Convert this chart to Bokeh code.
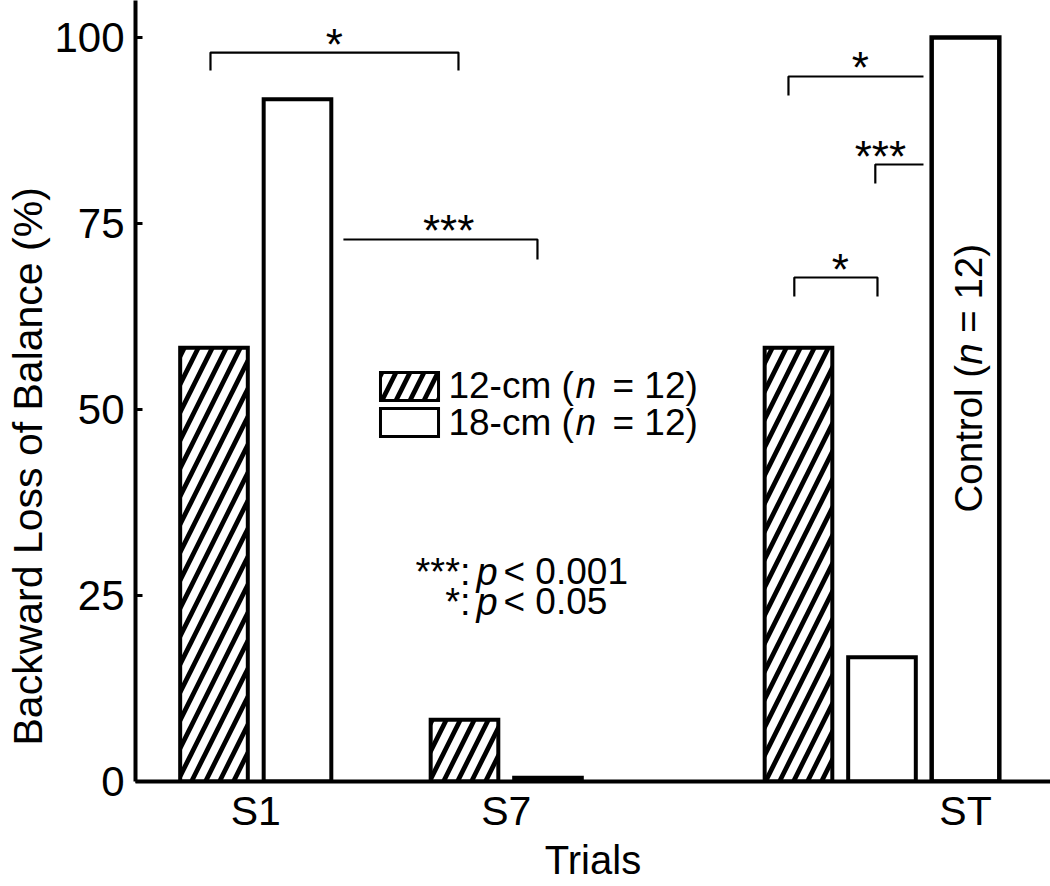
import math
from bokeh.plotting import figure
from bokeh.models import FixedTicker, Range1d, Title
from bokeh.core.properties import value
from bokeh.embed import file_html
from bokeh.resources import INLINE

# ---------------- data ----------------
trials = ["S1", "S7", "ST"]
loss_12cm = [58.3, 8.3, 58.3]     # Backward loss of balance (%), 12-cm group
loss_18cm = [91.7, 0.5, 16.7]     # 18-cm group
control_trial = "ST"
loss_control = [100.0]            # Control group (ST only)
y_ticks = [0, 25, 50, 75, 100]
legend_rows = [("12-cm (", "n", "= 12)"), ("18-cm (", "n", "= 12)")]
control_text = ("Control (", "n", "= 12)")
sig_labels = ["*", "***", "*", "***", "*"]
p_keys = ["***:", "*:"]
p_texts = ["< 0.001", "< 0.05"]

# ---------------- layout ----------------
FONT = "Liberation Sans"
group_start = {"S1": 1, "S7": 4, "ST": 8}
BAR_W = 0.81
W, H = 1050, 886
LEFT, BOTTOM = 135, 105
X0 = 0.06
PX_X = 83.5
X1 = X0 + (W - LEFT) / PX_X
Y0 = 0.0
PX_Y = 7.44
Y1 = (H - BOTTOM) / PX_Y
BASE_SHIFT = 14   # px correction for rendered text baseline

# Arial / Liberation Sans advance widths (per 1000 em)
ADV = {" ": 278, "(": 333, ")": 333, "*": 389, "-": 333, ".": 278, ":": 278,
       "<": 584, "=": 584, "c": 500, "m": 833, "n": 556, "p": 556, "C": 722,
       "o": 556, "t": 278, "r": 333, "l": 222}
for d in "0123456789":
    ADV[d] = 556


def text_w(s, size):
    return sum(ADV.get(ch, 556) for ch in s) / 1000.0 * size


p = figure(width=W, height=H, x_range=Range1d(X0, X1), y_range=Range1d(Y0, Y1),
           output_backend="svg", toolbar_location=None,
           min_border_left=LEFT, min_border_bottom=BOTTOM,
           min_border_top=0, min_border_right=0)
p.title.visible = False
p.outline_line_color = None
p.grid.visible = False
p.background_fill_color = "white"

# ---------------- bars ----------------
x12 = [group_start[t] for t in trials]
x18 = [group_start[t] + 1 for t in trials]
xc = [group_start[control_trial] + 2]

HATCH = dict(hatch_pattern="right_diagonal_line", hatch_color="black",
             hatch_scale=28, hatch_weight=4.8)
p.vbar(x=x12, top=loss_12cm, width=BAR_W, fill_color="white", line_color="black",
       line_width=4, line_join="miter", **HATCH)
p.vbar(x=x18, top=loss_18cm, width=BAR_W, fill_color="white", line_color="black",
       line_width=4, line_join="miter")
p.vbar(x=xc, top=loss_control, width=BAR_W, fill_color="white", line_color="black",
       line_width=4.5, line_join="miter")

# ---------------- significance brackets ----------------
# (x_left, x_right, y, y_end_left, y_end_right, label_x)
brackets = [
    (0.958, 3.928, 97.98, 95.56, 95.56, 2.44),
    (2.55, 4.874, 72.85, None, 70.16, 3.81),
    (7.88, 9.497, 94.76, 92.2, None, 8.74),
    (8.92, 9.497, 82.93, 80.38, None, 8.98),
    (7.95, 8.946, 67.74, 65.19, 65.19, 8.50),
]
bx, by = [], []
for xl, xr, yy, yl, yr, _ in brackets:
    xs, ys = [], []
    if yl is not None:
        xs.append(xl); ys.append(yl)
    xs += [xl, xr]; ys += [yy, yy]
    if yr is not None:
        xs.append(xr); ys.append(yr)
    bx.append(xs); by.append(ys)
p.multi_line(xs=bx, ys=by, line_color="black", line_width=2.2)

p.text(x=[b[5] for b in brackets], y=[b[2] + 8.5 / PX_Y for b in brackets],
       text=sig_labels, text_align="center", text_baseline="alphabetic",
       text_font=value(FONT), text_font_size="44px", text_color="black")

# ---------------- legend (manual, italic n) ----------------
leg_box_x = (2.994, 3.689)
leg_rows_y = [(51.21, 54.97), (46.37, 50.13)]
p.quad(left=[leg_box_x[0]], right=[leg_box_x[1]], bottom=[leg_rows_y[0][0]], top=[leg_rows_y[0][1]],
       fill_color="white", line_color="black", line_width=3, line_join="miter", **HATCH)
p.quad(left=[leg_box_x[0]], right=[leg_box_x[1]], bottom=[leg_rows_y[1][0]], top=[leg_rows_y[1][1]],
       fill_color="white", line_color="black", line_width=3, line_join="miter")

LEG_X = 3.808
leg_base = [51.34, 46.37]
piece_off = [0, 127, 164]     # px offsets of the three text runs
for row, yb in zip(legend_rows, leg_base):
    for k, s in enumerate(row):
        p.text(x=[LEG_X + piece_off[k] / PX_X], y=[yb + BASE_SHIFT / PX_Y], text=[s],
               text_align="left", text_baseline="alphabetic",
               text_font=value(FONT), text_font_size="37px",
               text_font_style="italic" if k == 1 else "normal", text_color="black")

# ---------------- p-value key ----------------
p_rows_y = [26.34, 22.31]
for key, txt, yb in zip(p_keys, p_texts, p_rows_y):
    yy = yb + BASE_SHIFT / PX_Y
    p.text(x=[4.072], y=[yy], text=[key], text_align="right", text_baseline="alphabetic",
           text_font=value(FONT), text_font_size="38px", text_color="black")
    p.text(x=[4.144], y=[yy], text=["p"], text_align="left", text_baseline="alphabetic",
           text_font=value(FONT), text_font_size="38px", text_font_style="italic",
           text_color="black")
    p.text(x=[4.467], y=[yy], text=[txt], text_align="left", text_baseline="alphabetic",
           text_font=value(FONT), text_font_size="37px", text_color="black")

# ---------------- rotated control label ----------------
CTRL_X, CTRL_Y = 10.204, 36.16
size_c = 38.5
offs = [0, text_w(control_text[0], size_c), text_w(control_text[0] + "n ", size_c)]
for k, s in enumerate(control_text):
    p.text(x=[CTRL_X - BASE_SHIFT / PX_X], y=[CTRL_Y + offs[k] / PX_Y], text=[s],
           angle=math.pi / 2, text_align="left", text_baseline="alphabetic",
           text_font=value(FONT), text_font_size=f"{size_c}px",
           text_font_style="italic" if k == 1 else "normal", text_color="black")

# ---------------- axes ----------------
centers = [group_start[t] + (2 if t == control_trial else 0.5) for t in trials]
p.xaxis.ticker = FixedTicker(ticks=centers)
p.xaxis.major_label_overrides = {c: t for c, t in zip(centers, trials)}
p.xaxis.major_tick_line_color = None
p.xaxis.major_tick_out = 0
p.xaxis.major_tick_in = 0
p.xaxis.minor_tick_line_color = None
p.xaxis.major_label_standoff = 6
p.xaxis.major_label_text_font_size = "41px"
p.xaxis.axis_label = "Trials"
p.xaxis.axis_label_standoff = 1
p.xaxis.axis_label_text_font = FONT
p.xaxis.axis_label_text_font_size = "40px"
p.xaxis.axis_label_text_font_style = "normal"
p.xaxis.axis_label_text_color = "black"

p.yaxis.ticker = FixedTicker(ticks=y_ticks)
p.yaxis.major_tick_in = 7
p.yaxis.major_tick_out = 0
p.yaxis.major_tick_line_width = 3
p.yaxis.minor_tick_line_color = None
p.yaxis.major_label_standoff = 11
p.yaxis.major_label_text_font_size = "42px"
for ax in (p.xaxis[0], p.yaxis[0]):
    ax.axis_line_width = 4
    ax.axis_line_color = "black"
    ax.major_label_text_font = FONT
    ax.major_label_text_color = "black"

p.add_layout(Title(text="Backward Loss of Balance (%)", align="left", offset=36,
                   standoff=2, text_font=FONT, text_font_size="41px",
                   text_line_height=0.9, text_font_style="normal",
                   text_color="black"), "left")

open("out.html", "w").write(file_html(p, INLINE))
